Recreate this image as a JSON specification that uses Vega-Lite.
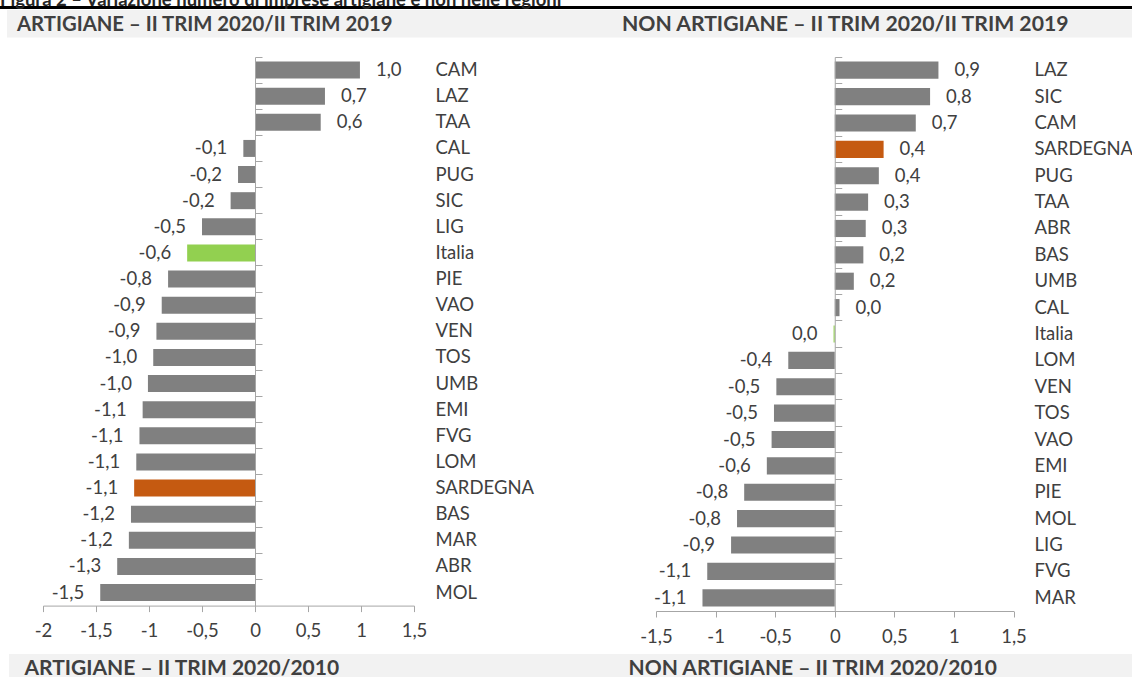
{
  "$schema": "https://vega.github.io/schema/vega-lite/v6.json",
  "padding": {"top": -9, "left": 0, "right": 0, "bottom": 0},
  "spacing": 0,
  "background": "white",
  "config": {
    "view": {"stroke": null},
    "locale": {"number": {"decimal": ",", "thousands": ".", "grouping": [3], "currency": ["", " €"], "minus": "-"}},
    "axis": {"labelFont": "Lato", "labelFontSize": 18.5, "labelColor": "#404040", "domainColor": "#a6a6a6", "tickColor": "#a6a6a6", "grid": false, "title": null},
    "text": {"font": "Lato", "fontSize": 18.5, "color": "#404040"}
  },
  "datasets": {
    "art": [
      {"r": "CAM", "v": 0.99, "g": "Regione"},
      {"r": "LAZ", "v": 0.66, "g": "Regione"},
      {"r": "TAA", "v": 0.62, "g": "Regione"},
      {"r": "CAL", "v": -0.11, "g": "Regione"},
      {"r": "PUG", "v": -0.16, "g": "Regione"},
      {"r": "SIC", "v": -0.23, "g": "Regione"},
      {"r": "LIG", "v": -0.5, "g": "Regione"},
      {"r": "Italia", "v": -0.64, "g": "Italia"},
      {"r": "PIE", "v": -0.82, "g": "Regione"},
      {"r": "VAO", "v": -0.88, "g": "Regione"},
      {"r": "VEN", "v": -0.93, "g": "Regione"},
      {"r": "TOS", "v": -0.96, "g": "Regione"},
      {"r": "UMB", "v": -1.01, "g": "Regione"},
      {"r": "EMI", "v": -1.06, "g": "Regione"},
      {"r": "FVG", "v": -1.09, "g": "Regione"},
      {"r": "LOM", "v": -1.12, "g": "Regione"},
      {"r": "SARDEGNA", "v": -1.14, "g": "Sardegna"},
      {"r": "BAS", "v": -1.17, "g": "Regione"},
      {"r": "MAR", "v": -1.19, "g": "Regione"},
      {"r": "ABR", "v": -1.3, "g": "Regione"},
      {"r": "MOL", "v": -1.46, "g": "Regione"}
    ],
    "non": [
      {"r": "LAZ", "v": 0.87, "g": "Regione"},
      {"r": "SIC", "v": 0.8, "g": "Regione"},
      {"r": "CAM", "v": 0.68, "g": "Regione"},
      {"r": "SARDEGNA", "v": 0.41, "g": "Sardegna"},
      {"r": "PUG", "v": 0.37, "g": "Regione"},
      {"r": "TAA", "v": 0.28, "g": "Regione"},
      {"r": "ABR", "v": 0.26, "g": "Regione"},
      {"r": "BAS", "v": 0.24, "g": "Regione"},
      {"r": "UMB", "v": 0.16, "g": "Regione"},
      {"r": "CAL", "v": 0.04, "g": "Regione"},
      {"r": "Italia", "v": -0.01, "g": "Italia"},
      {"r": "LOM", "v": -0.39, "g": "Regione"},
      {"r": "VEN", "v": -0.49, "g": "Regione"},
      {"r": "TOS", "v": -0.51, "g": "Regione"},
      {"r": "VAO", "v": -0.53, "g": "Regione"},
      {"r": "EMI", "v": -0.57, "g": "Regione"},
      {"r": "PIE", "v": -0.76, "g": "Regione"},
      {"r": "MOL", "v": -0.82, "g": "Regione"},
      {"r": "LIG", "v": -0.87, "g": "Regione"},
      {"r": "FVG", "v": -1.07, "g": "Regione"},
      {"r": "MAR", "v": -1.11, "g": "Regione"}
    ]
  },
  "vconcat": [
    {
      "width": 1132, "height": 3,
      "view": {"fill": "#000000", "stroke": null},
      "data": {"values": [{"t": "Figura 2 – Variazione numero di imprese artigiane e non nelle regioni"}]},
      "mark": {"type": "text", "align": "left", "baseline": "alphabetic", "dx": -566, "dy": -1.5, "fontWeight": "bold", "fontSize": 18.5, "color": "#262626"},
      "encoding": {"text": {"field": "t", "type": "nominal"}}
    },
    {
      "spacing": 0,
      "hconcat": [
        {"width": 7, "height": 27.5, "data": {"values": [{}]}, "mark": {"type": "text", "text": "", "fontSize": 1}},
        {
          "width": 554, "height": 27.5,
          "view": {"fill": "#f2f2f2", "stroke": null},
          "data": {"values": [{"t": "ARTIGIANE – II TRIM 2020/II TRIM 2019"}]},
          "mark": {"type": "text", "align": "left", "baseline": "alphabetic", "dx": -267, "dy": 6.75, "fontWeight": "bold", "fontSize": 20.3, "color": "#404040"},
          "encoding": {"text": {"field": "t", "type": "nominal"}}
        },
        {
          "width": 571, "height": 27.5,
          "view": {"fill": "#f2f2f2", "stroke": null},
          "data": {"values": [{"t": "NON ARTIGIANE – II TRIM 2020/II TRIM 2019"}]},
          "mark": {"type": "text", "align": "left", "baseline": "alphabetic", "dx": -224.5, "dy": 6.75, "fontWeight": "bold", "fontSize": 21.2, "color": "#404040"},
          "encoding": {"text": {"field": "t", "type": "nominal"}}
        }
      ]
    },
    {"width": 10, "height": 17.5, "data": {"values": [{}]}, "mark": {"type": "text", "text": "", "fontSize": 1}},
    {
      "spacing": 0,
      "bounds": "flush",
      "hconcat": [
        {"width": 43, "height": 597, "data": {"values": [{}]}, "mark": {"type": "text", "text": "", "fontSize": 1}},
        {
          "width": 371, "height": 548.6,
          "data": {"name": "art"},
          "resolve": {"axis": {"y": "independent"}},
          "layer": [
            {
              "mark": {"type": "bar", "height": {"band": 0.65}},
              "encoding": {
                "y": {"field": "r", "type": "nominal", "scale": {"domain": ["CAM","LAZ","TAA","CAL","PUG","SIC","LIG","Italia","PIE","VAO","VEN","TOS","UMB","EMI","FVG","LOM","SARDEGNA","BAS","MAR","ABR","MOL"], "paddingInner": 0, "paddingOuter": 0}, "axis": {"orient": "right", "domain": false, "ticks": false, "labelPadding": 21, "labelAlign": "left", "title": null}},
                "x": {"field": "v", "type": "quantitative", "scale": {"domain": [-2, 1.5], "nice": false, "zero": false}, "axis": {"orient": "bottom", "values": [-2, -1.5, -1, -0.5, 0, 0.5, 1, 1.5], "format": ".1~f", "tickSize": 6, "labelPadding": 10, "labelFlush": false, "labelOverlap": false, "title": null}},
                "color": {"field": "g", "type": "nominal", "scale": {"domain": ["Regione", "Italia", "Sardegna"], "range": ["#808080", "#92d050", "#c55a11"]}, "legend": null}
              }
            },
            {
              "transform": [{"filter": "datum.v >= 0"}],
              "mark": {"type": "text", "align": "left", "baseline": "middle", "dx": 16},
              "encoding": {
                "y": {"field": "r", "type": "nominal", "scale": {"domain": ["CAM","LAZ","TAA","CAL","PUG","SIC","LIG","Italia","PIE","VAO","VEN","TOS","UMB","EMI","FVG","LOM","SARDEGNA","BAS","MAR","ABR","MOL"], "paddingInner": 0, "paddingOuter": 0}, "axis": {"orient": "right", "offset": -159, "labels": false, "domain": true, "ticks": true, "tickSize": 7, "bandPosition": 0, "zindex": 1, "title": null}},
                "x": {"field": "v", "type": "quantitative", "scale": {"domain": [-2, 1.5], "nice": false, "zero": false}, "title": null},
                "text": {"field": "v", "type": "quantitative", "format": ".1f"}
              }
            },
            {
              "transform": [{"filter": "datum.v < 0"}],
              "mark": {"type": "text", "align": "right", "baseline": "middle", "dx": -16},
              "encoding": {
                "y": {"field": "r", "type": "nominal", "scale": {"domain": ["CAM","LAZ","TAA","CAL","PUG","SIC","LIG","Italia","PIE","VAO","VEN","TOS","UMB","EMI","FVG","LOM","SARDEGNA","BAS","MAR","ABR","MOL"], "paddingInner": 0, "paddingOuter": 0}, "axis": null},
                "x": {"field": "v", "type": "quantitative", "scale": {"domain": [-2, 1.5], "nice": false, "zero": false}, "title": null},
                "text": {"field": "v", "type": "quantitative", "format": ".1f"}
              }
            }
          ]
        },
        {"width": 241.6, "height": 597, "data": {"values": [{}]}, "mark": {"type": "text", "text": "", "fontSize": 1}},
        {
          "width": 357.5, "height": 554,
          "data": {"name": "non"},
          "resolve": {"axis": {"y": "independent"}},
          "layer": [
            {
              "mark": {"type": "bar", "height": {"band": 0.65}},
              "encoding": {
                "y": {"field": "r", "type": "nominal", "scale": {"domain": ["LAZ","SIC","CAM","SARDEGNA","PUG","TAA","ABR","BAS","UMB","CAL","Italia","LOM","VEN","TOS","VAO","EMI","PIE","MOL","LIG","FVG","MAR"], "paddingInner": 0, "paddingOuter": 0}, "axis": {"orient": "right", "domain": false, "ticks": false, "labelPadding": 20.5, "labelAlign": "left", "title": null}},
                "x": {"field": "v", "type": "quantitative", "scale": {"domain": [-1.5, 1.5], "nice": false, "zero": false}, "axis": {"orient": "bottom", "values": [-1.5, -1, -0.5, 0, 0.5, 1, 1.5], "format": ".1~f", "tickSize": 6, "labelPadding": 10, "labelFlush": false, "labelOverlap": false, "title": null}},
                "color": {"field": "g", "type": "nominal", "scale": {"domain": ["Regione", "Italia", "Sardegna"], "range": ["#808080", "#92d050", "#c55a11"]}, "legend": null}
              }
            },
            {
              "transform": [{"filter": "datum.v >= 0"}],
              "mark": {"type": "text", "align": "left", "baseline": "middle", "dx": 16},
              "encoding": {
                "y": {"field": "r", "type": "nominal", "scale": {"domain": ["LAZ","SIC","CAM","SARDEGNA","PUG","TAA","ABR","BAS","UMB","CAL","Italia","LOM","VEN","TOS","VAO","EMI","PIE","MOL","LIG","FVG","MAR"], "paddingInner": 0, "paddingOuter": 0}, "axis": {"orient": "right", "offset": -178.75, "labels": false, "domain": true, "ticks": true, "tickSize": 7, "bandPosition": 0, "zindex": 1, "title": null}},
                "x": {"field": "v", "type": "quantitative", "scale": {"domain": [-1.5, 1.5], "nice": false, "zero": false}, "title": null},
                "text": {"field": "v", "type": "quantitative", "format": ".1f"}
              }
            },
            {
              "transform": [{"filter": "datum.v < 0"}],
              "mark": {"type": "text", "align": "right", "baseline": "middle", "dx": -16},
              "encoding": {
                "y": {"field": "r", "type": "nominal", "scale": {"domain": ["LAZ","SIC","CAM","SARDEGNA","PUG","TAA","ABR","BAS","UMB","CAL","Italia","LOM","VEN","TOS","VAO","EMI","PIE","MOL","LIG","FVG","MAR"], "paddingInner": 0, "paddingOuter": 0}, "axis": null},
                "x": {"field": "v", "type": "quantitative", "scale": {"domain": [-1.5, 1.5], "nice": false, "zero": false}, "title": null},
                "text": {"field": "v", "type": "quantitative", "format": ".1f"}
              }
            }
          ]
        }
      ]
    },
    {
      "spacing": 0,
      "hconcat": [
        {"width": 9, "height": 25.5, "data": {"values": [{}]}, "mark": {"type": "text", "text": "", "fontSize": 1}},
        {
          "width": 551, "height": 25.5,
          "view": {"fill": "#f2f2f2", "stroke": null},
          "data": {"values": [{"t": "ARTIGIANE – II TRIM 2020/2010"}]},
          "mark": {"type": "text", "align": "left", "baseline": "alphabetic", "dx": -260, "dy": 8, "fontWeight": "bold", "fontSize": 21, "color": "#404040"},
          "encoding": {"text": {"field": "t", "type": "nominal"}}
        },
        {
          "width": 572, "height": 25.5,
          "view": {"fill": "#f2f2f2", "stroke": null},
          "data": {"values": [{"t": "NON ARTIGIANE – II TRIM 2020/2010"}]},
          "mark": {"type": "text", "align": "left", "baseline": "alphabetic", "dx": -217.4, "dy": 8, "fontWeight": "bold", "fontSize": 21, "color": "#404040"},
          "encoding": {"text": {"field": "t", "type": "nominal"}}
        }
      ]
    }
  ]
}
